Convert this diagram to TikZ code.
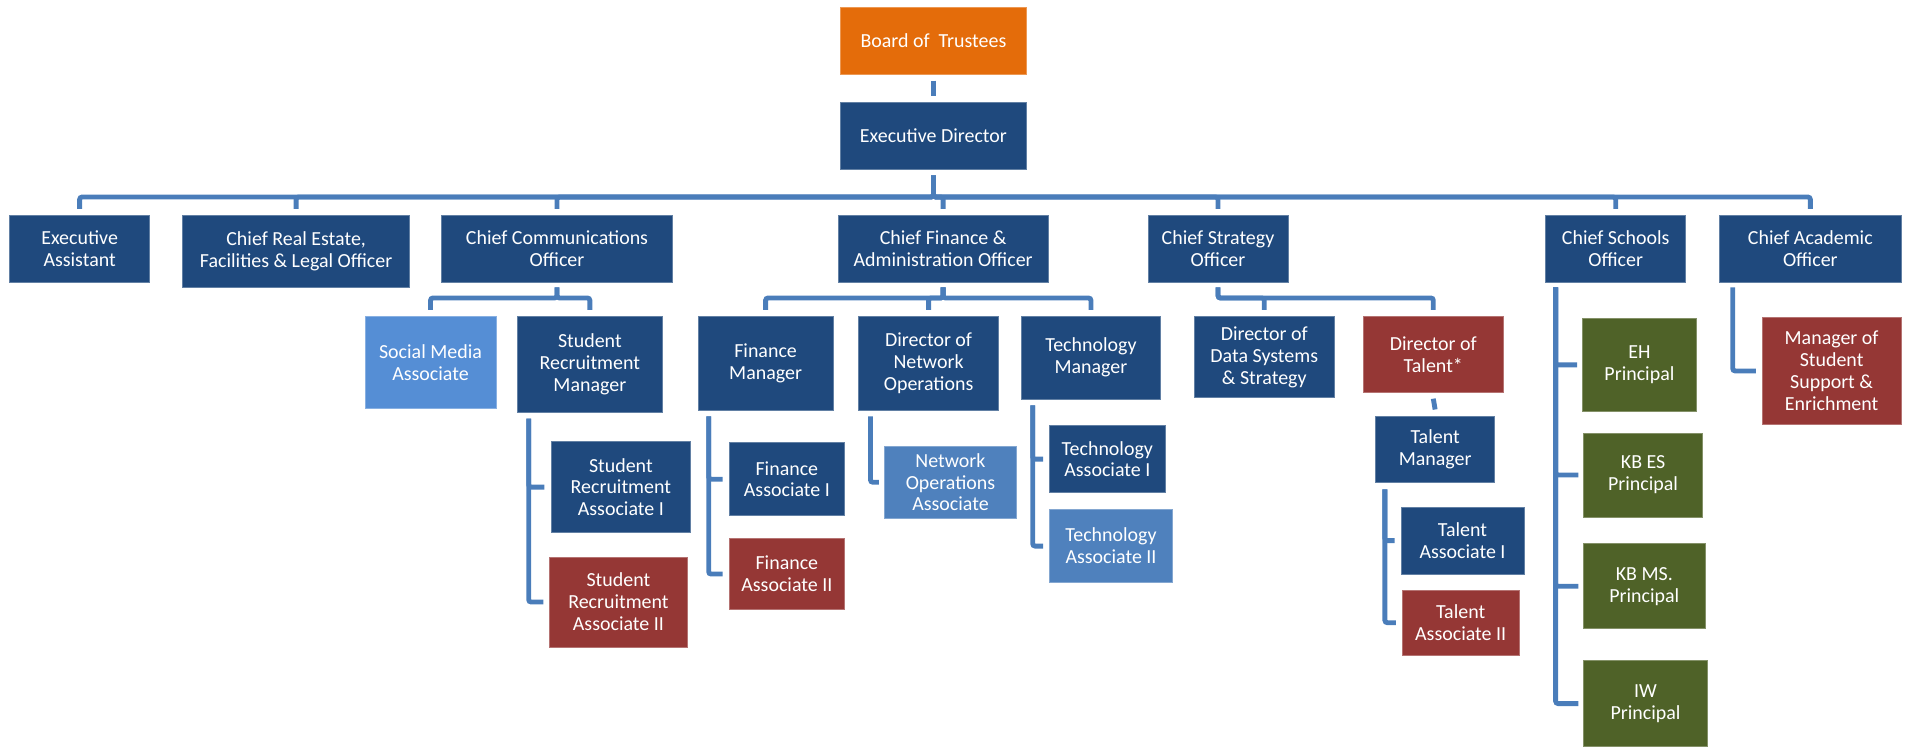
\documentclass[tikz,border=0pt]{standalone}
\usepackage{fontspec}
\setmainfont{Carlito}
\definecolor{cDB}{HTML}{1F497D}
\definecolor{cRed}{HTML}{953735}
\definecolor{cGreen}{HTML}{4F6228}
\definecolor{cOrange}{HTML}{E46C0A}
\definecolor{cLight}{HTML}{558ED5}
\definecolor{cMid}{HTML}{4F81BD}
\definecolor{cLine}{HTML}{4A7DBA}
\newcommand{\orgfont}{\fontsize{16.4}{18}\selectfont}
\tikzset{
  orgbox/.style={rectangle, inner sep=1pt, align=center, text=white, font=\orgfont, line width=0.6pt},
  dblue/.style={orgbox, fill=cDB, draw=cDB!70!white},
  redbox/.style={orgbox, fill=cRed, draw=cRed!70!white},
  greenbox/.style={orgbox, fill=cGreen, draw=cGreen!70!white},
  orangebox/.style={orgbox, fill=cOrange, draw=cOrange!70!white},
  lightbox/.style={orgbox, fill=cLight, draw=cLight!70!white},
  midbox/.style={orgbox, fill=cMid, draw=cMid!70!white},
  conn/.style={draw=cLine, line width=4pt, rounded corners=2pt}
}
\begin{document}
\begin{tikzpicture}[x=1pt,y=-1pt]
\useasboundingbox (0,0) rectangle (1568,614);
% top levels
\node[orangebox, minimum width=153pt, minimum height=55pt] (bot) at (767.5,33.5) {Board of\ \ Trustees};
\node[dblue, minimum width=153pt, minimum height=55pt] (ed) at (767.5,111.5) {Executive Director};
% level 2
\node[dblue, minimum width=115pt, minimum height=55pt] (ea) at (65.5,204.5) {Executive\\Assistant};
\node[dblue, minimum width=187pt, minimum height=59pt] (cre) at (243.5,206.5) {Chief Real Estate,\\Facilities \& Legal Officer};
\node[dblue, minimum width=190pt, minimum height=55pt] (cco) at (458,204.5) {Chief Communications\\Officer};
\node[dblue, minimum width=173pt, minimum height=55pt] (cfao) at (775.5,204.5) {Chief Finance \&\\Administration Officer};
\node[dblue, minimum width=115pt, minimum height=55pt] (cso) at (1001.5,204.5) {Chief Strategy\\Officer};
\node[dblue, minimum width=115pt, minimum height=55pt] (cscho) at (1328.5,204.5) {Chief Schools\\Officer};
\node[dblue, minimum width=149pt, minimum height=55pt] (cao) at (1488.5,204.5) {Chief Academic\\Officer};
% level 3
\node[lightbox, minimum width=108pt, minimum height=76pt] (sma) at (354,298) {Social Media\\Associate};
\node[dblue, minimum width=120pt, minimum height=79pt] (srm) at (485,299.5) {Student\\Recruitment\\Manager};
\node[dblue, minimum width=111pt, minimum height=77pt] (fm) at (629.5,298.5) {Finance\\Manager};
\node[dblue, minimum width=115pt, minimum height=77pt] (dno) at (763.5,298.5) {Director of\\Network\\Operations};
\node[dblue, minimum width=114pt, minimum height=68pt] (tm) at (897,294) {Technology\\Manager};
\node[dblue, minimum width=115pt, minimum height=67pt] (dds) at (1039.5,293.5) {Director of\\Data Systems\\\& Strategy};
\node[redbox, minimum width=115pt, minimum height=63pt] (dot) at (1178.5,291.5) {Director of\\Talent*};
\node[greenbox, minimum width=94pt, minimum height=76pt] (eh) at (1348,300) {EH\\Principal};
\node[redbox, minimum width=114pt, minimum height=88pt] (msse) at (1506,305) {Manager of\\Student\\Support \&\\Enrichment};
% level 4
\node[dblue, minimum width=115pt, minimum height=75pt] (sra1) at (510.5,400.5) {Student\\Recruitment\\Associate I};
\node[redbox, minimum width=113pt, minimum height=74pt] (sra2) at (508.5,495) {Student\\Recruitment\\Associate II};
\node[dblue, minimum width=95pt, minimum height=60pt] (fa1) at (647,394) {Finance\\Associate I};
\node[redbox, minimum width=95pt, minimum height=58pt] (fa2) at (647,472) {Finance\\Associate II};
\node[midbox, minimum width=109pt, minimum height=59pt] (noa) at (781.5,396.5) {Network\\Operations\\Associate};
\node[dblue, minimum width=95pt, minimum height=55pt] (ta1) at (910.5,377.5) {Technology\\Associate I};
\node[midbox, minimum width=101pt, minimum height=60pt] (ta2) at (913.5,449) {Technology\\Associate II};
\node[dblue, minimum width=98pt, minimum height=55pt] (talm) at (1180,369.5) {Talent\\Manager};
\node[dblue, minimum width=101pt, minimum height=55pt] (tal1) at (1202.5,444.5) {Talent\\Associate I};
\node[redbox, minimum width=96pt, minimum height=54pt] (tal2) at (1201,512) {Talent\\Associate II};
\node[greenbox, minimum width=98pt, minimum height=69pt] (kbes) at (1351,390.5) {KB ES\\Principal};
\node[greenbox, minimum width=100pt, minimum height=70pt] (kbms) at (1352,482) {KB MS.\\Principal};
\node[greenbox, minimum width=102pt, minimum height=71pt] (iw) at (1353,578.5) {IW\\Principal};
% bus coordinates
\coordinate (bus1) at (0,162);
\coordinate (bus2) at (0,245);
% connectors
\draw[conn] ([yshift=-5pt]bot.south) -- ([yshift=5pt]ed.north);
\foreach \c in {ea,cre,cco,cfao,cso,cscho,cao}
  \draw[conn] ([yshift=-5pt]ed.south) -- (ed.south |- bus1) -| ([yshift=5pt]\c.north);
\foreach \c in {sma,srm}
  \draw[conn] ([yshift=-4pt]cco.south) -- (cco.south |- bus2) -| ([yshift=5pt]\c.north);
\foreach \c in {fm,dno,tm}
  \draw[conn] ([yshift=-4pt]cfao.south) -- (cfao.south |- bus2) -| ([yshift=5pt]\c.north);
\foreach \c in {dds,dot}
  \draw[conn] ([yshift=-4pt]cso.south) -- (cso.south |- bus2) -| ([yshift=5pt]\c.north);
\draw[conn] ([yshift=-4.5pt]dot.south) -- ([yshift=5pt]talm.north);
% hanging connectors
\foreach \c in {sra1,sra2}
  \draw[conn] ([shift={(10pt,-5pt)}]srm.south west) |- ([xshift=-5pt]\c.west);
\foreach \c in {fa1,fa2}
  \draw[conn] ([shift={(9pt,-5pt)}]fm.south west) |- ([xshift=-5pt]\c.west);
\draw[conn] ([shift={(10pt,-5pt)}]dno.south west) |- ([xshift=-4pt]noa.west);
\foreach \c in {ta1,ta2}
  \draw[conn] ([shift={(9.4pt,-5pt)}]tm.south west) |- ([xshift=-5pt]\c.west);
\foreach \c in {tal1,tal2}
  \draw[conn] ([shift={(8pt,-5pt)}]talm.south west) |- ([xshift=-5pt]\c.west);
\foreach \c in {eh,kbes,kbms,iw}
  \draw[conn] ([shift={(8.4pt,-4pt)}]cscho.south west) |- ([xshift=-4pt]\c.west);
\draw[conn] ([shift={(11pt,-4pt)}]cao.south west) |- ([xshift=-5pt]msse.west);
\end{tikzpicture}
\end{document}
